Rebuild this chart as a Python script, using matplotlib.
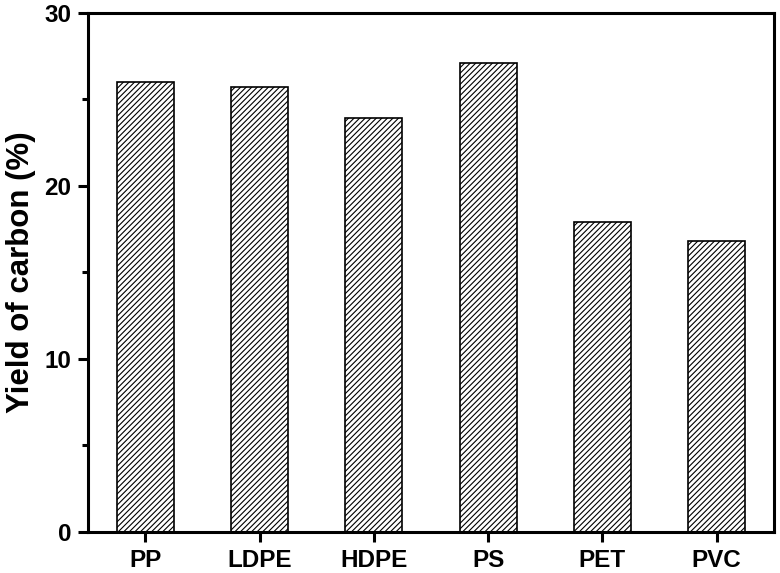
import numpy as np
import matplotlib.pyplot as plt
from matplotlib.ticker import MultipleLocator

categories = ["PP", "LDPE", "HDPE", "PS", "PET", "PVC"]
yield_carbon = [26.0, 25.7, 23.9, 27.1, 17.9, 16.8]

plt.rcParams['font.family'] = ['Liberation Sans', 'DejaVu Sans']
plt.rcParams['font.weight'] = 'bold'
plt.rcParams['hatch.linewidth'] = 0.8

fig = plt.figure(figsize=(7.8, 5.73), dpi=100)
ax = fig.add_axes([0.113, 0.0716, 0.879, 0.906])

x = np.arange(len(categories))
ax.bar(x, yield_carbon, width=0.5, color='white', edgecolor='black',
       linewidth=1.2, hatch='//////')

ax.set_xlim(-0.5, 5.5)
ax.set_ylim(0, 30)
ax.set_xticks(x)
ax.set_xticklabels(categories, fontsize=17.5, fontweight='bold')
ax.yaxis.set_major_locator(MultipleLocator(10))
ax.yaxis.set_minor_locator(MultipleLocator(5))
for lab in ax.get_yticklabels():
    lab.set_fontsize(17.5)
    lab.set_fontweight('bold')

ax.set_ylabel("Yield of carbon (%)", fontsize=22.5, fontweight='bold', labelpad=6)

for s in ax.spines.values():
    s.set_linewidth(2.2)
ax.tick_params(axis='both', which='major', direction='out', length=7, width=2.2, pad=5)
ax.tick_params(axis='y', which='minor', direction='out', length=4, width=2.2)

fig.savefig("out.png", dpi=100)
